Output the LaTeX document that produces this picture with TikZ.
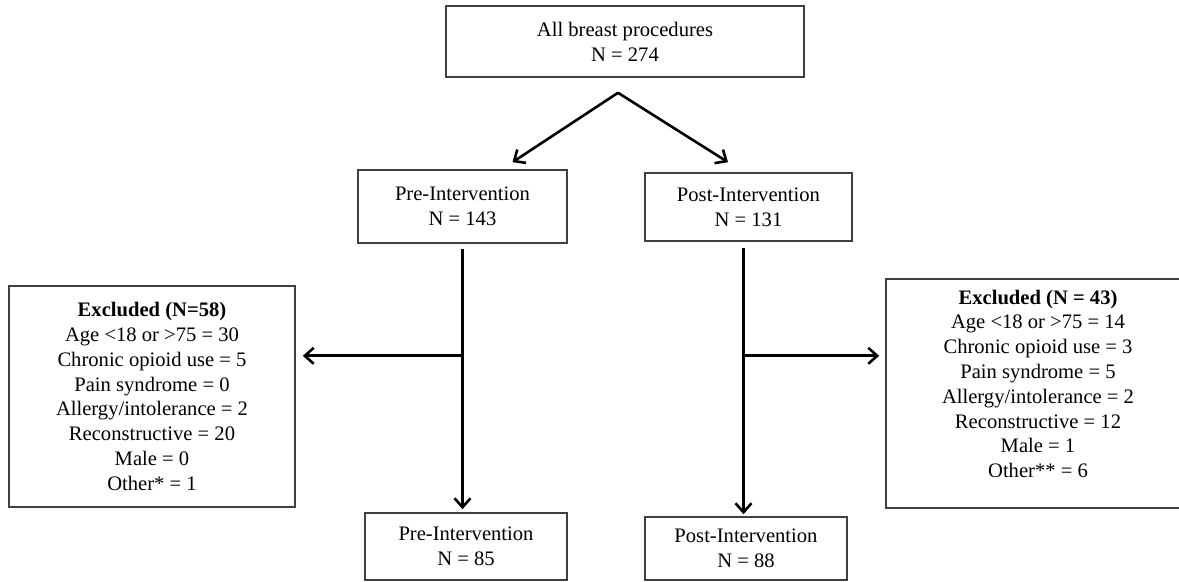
\documentclass[tikz,border=0pt]{standalone}
\usepackage{fontspec}
\setmainfont{Liberation Serif}
\usetikzlibrary{arrows.meta,positioning}

\begin{document}
\begin{tikzpicture}[
        x=0.5pt, y=-0.5pt,
        box/.style={
            draw=black!75,
            line width=0.8pt,
            align=center,
            inner sep=0pt,
            font=\fontsize{10.3}{12.4}\selectfont
        },
        flow/.style={-{Straight Barb[length=4.5pt,width=8pt]},line width=1.3pt}
    ]
        \useasboundingbox (0,0) rectangle (1179,582);

        \node[box, minimum width=179pt, minimum height=35.5pt]
            (all) at (625,41.5) {All breast procedures\\N = 274};

        \node[box, minimum width=104.5pt, minimum height=36.5pt]
            (pre) at (462.5,206.5) {Pre-Intervention\\N = 143};
        \node[box, minimum width=103.5pt, minimum height=34pt]
            (post) at (748.5,207) {Post-Intervention\\N = 131};

        \node[box, minimum width=143pt, minimum height=110.5pt]
            (exclpre) at (152,396.5) {\textbf{Excluded (N=58)}\\
             Age <18 or >75 = 30\\Chronic opioid use = 5\\Pain syndrome = 0\\
             Allergy/intolerance = 2\\Reconstructive = 20\\Male = 0\\Other* = 1};

        % The right box runs past the page edge, so its text sits left of centre.
        \node[box, align=none, minimum width=152pt, minimum height=114.5pt]
            (exclpost) at (1038,393.5) {\begin{tabular}{@{}c@{}}
             \textbf{Excluded (N = 43)}\\
             Age <18 or >75 = 14\\Chronic opioid use = 3\\Pain syndrome = 5\\
             Allergy/intolerance = 2\\Reconstructive = 12\\Male = 1\\Other** = 6\\[7.5pt]
             \end{tabular}\hspace{21pt}};

        \node[box, minimum width=101pt, minimum height=33.5pt]
            (prefin) at (466,546.5) {Pre-Intervention\\N = 85};
        \node[box, minimum width=101pt, minimum height=31.5pt]
            (postfin) at (746,548.5) {Post-Intervention\\N = 88};

        \coordinate (split) at ([xshift=-3.5pt,yshift=-7.5pt]all.south);
        \coordinate (prefork) at ([yshift=-56pt]pre.south);
        \coordinate (postfork) at ([xshift=-2.5pt,yshift=-57pt]post.south);

        \draw[flow] (split) -- ([xshift=25pt,yshift=3.5pt]pre.north);
        \draw[flow] (split) -- ([xshift=-10.25pt,yshift=5pt]post.north);

        \draw[flow, shorten <=2.5pt, shorten >=1.5pt]
            (pre.south) -- (pre.south |- prefin.north);
        \draw[flow, shorten <=3pt, shorten >=1pt]
            (postfork |- post.south) -- (postfork |- postfin.north);

        \draw[flow, shorten >=3.5pt] (prefork) -- (prefork -| exclpre.east);
        \draw[flow, shorten >=3pt] (postfork) -- (postfork -| exclpost.west);

\end{tikzpicture}
\end{document}
